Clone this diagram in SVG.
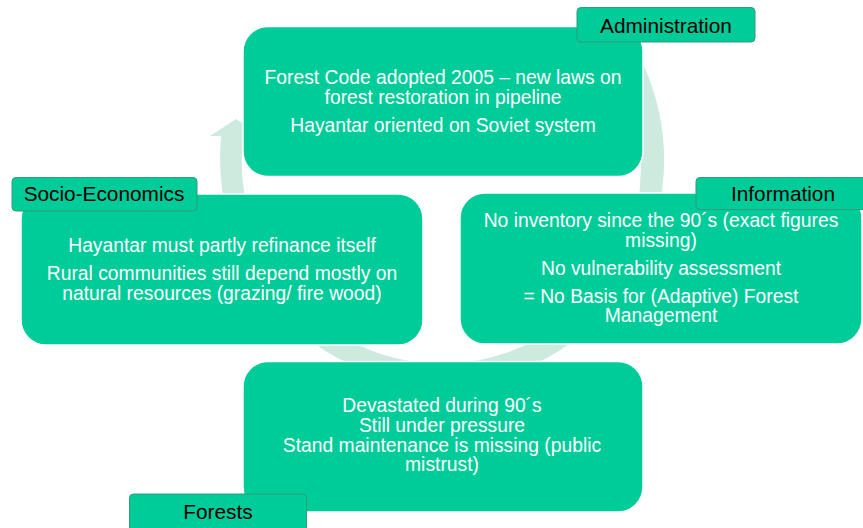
<svg xmlns="http://www.w3.org/2000/svg" width="863" height="528" viewBox="0 0 863 528">
<style>
.box{fill:#00cc99;stroke:#ffffff;stroke-width:1.5}
.lbl{fill:#00cc99;stroke:#2f9c7a;stroke-width:1}
.t{font-family:"Liberation Sans",Arial,sans-serif;font-size:19.3px;fill:#ffffff;text-anchor:middle}
.lt{font-family:"Liberation Sans",Arial,sans-serif;font-size:20.8px;fill:#000000;text-anchor:middle}
.ring{fill:#cdeade}
</style>
<rect width="863" height="528" fill="#ffffff"/>
<g id="connectors">
<path class="ring" d="M 636 50 A 222 225 0 1 1 221.3 136 L 243.4 136 A 200 202 0 0 0 639.8 190 Q 645 110 636 50 Z"/>
<polygon class="ring" points="210,136 236,119 262,136"/>
</g>
<g id="administration">
<rect class="box" x="243" y="26.5" width="400" height="150" rx="25"/>
<text class="t" x="443" y="84">Forest Code adopted 2005 – new laws on</text>
<text class="t" x="443" y="104">forest restoration in pipeline</text>
<text class="t" x="443" y="132">Hayantar oriented on Soviet system</text>
<rect class="lbl" x="577" y="7.5" width="178" height="34.5" rx="4"/>
<text class="lt" x="666" y="32.5">Administration</text>
</g>
<g id="socio-economics">
<rect class="box" x="21" y="194" width="402" height="151" rx="25"/>
<text class="t" x="222" y="252">Hayantar must partly refinance itself</text>
<text class="t" x="222" y="279.5">Rural communities still depend mostly on</text>
<text class="t" x="222" y="299.5">natural resources (grazing/ fire wood)</text>
<rect class="lbl" x="12" y="177.5" width="185" height="33.5" rx="4"/>
<text class="lt" x="104" y="201">Socio-Economics</text>
</g>
<g id="information">
<rect class="box" x="460" y="193" width="402" height="151" rx="25"/>
<text class="t" x="661" y="227">No inventory since the 90´s (exact figures</text>
<text class="t" x="661" y="246.5">missing)</text>
<text class="t" x="661" y="274.5">No vulnerability assessment</text>
<text class="t" x="661" y="303">= No Basis for (Adaptive) Forest</text>
<text class="t" x="661" y="322">Management</text>
<rect class="lbl" x="696" y="177.5" width="174" height="32" rx="4"/>
<text class="lt" x="783" y="200.5">Information</text>
</g>
<g id="forests">
<rect class="box" x="243" y="361.5" width="400" height="150.5" rx="25"/>
<text class="t" x="442" y="412">Devastated during 90´s</text>
<text class="t" x="442" y="432">Still under pressure</text>
<text class="t" x="442" y="452">Stand maintenance is missing (public</text>
<text class="t" x="442" y="471">mistrust)</text>
<rect class="lbl" x="129.5" y="494" width="177" height="40" rx="4"/>
<text class="lt" x="218" y="518.5">Forests</text>
</g>
</svg>
